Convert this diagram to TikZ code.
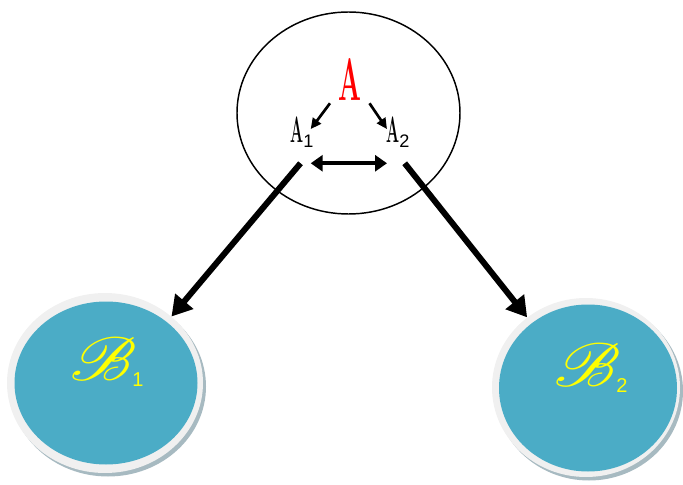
\documentclass[tikz,border=0pt]{standalone}
\usepackage{fontspec}
\usepackage{mathrsfs}
\usepackage{graphicx}
\usetikzlibrary{arrows.meta,shapes.geometric}
\newfontfamily\digitfont{Liberation Sans}
\definecolor{aqua}{HTML}{4BACC6}
\definecolor{ringgray}{HTML}{F0F0F0}
\definecolor{shadowgray}{HTML}{A7BAC1}
\definecolor{scriptyellow}{HTML}{FFFF00}
\newcommand{\scriptB}{\scalebox{2.1}[1.85]{\fontsize{24.88}{24.88}\selectfont$\mathscr{B}$}}
\begin{document}
    \begin{tikzpicture}
        [x=0.75pt, y=-0.75pt,
         bubble/.style={ellipse, draw=black, line width=1.1pt, inner sep=0pt},
         blob/.style={ellipse, draw=none, inner sep=0pt},
         letter/.style={inner sep=0pt, anchor=base west},
         thin arrow/.style={line width=2pt, -{Triangle[length=8pt, width=7.5pt]}},
         both arrow/.style={line width=3pt, {Triangle[length=9pt, width=12pt]}-{Triangle[length=9pt, width=12pt]}},
         fat arrow/.style={line width=4.5pt, -{Triangle[length=15pt, width=17pt]}}]
        \useasboundingbox (0,0) rectangle (683,485);
        % top set
        \node [bubble, minimum width=167.25pt, minimum height=151.5pt] (whole) at (348.5,113) {};
        \node [letter, text=red] (top) at (338,101) {\fontsize{45}{45}\selectfont\scalebox{0.45}[1]{\bfseries A}};
        \node [letter] (a1) at (290,143) {\fontsize{27.5}{27.5}\selectfont\scalebox{0.42}[1]{\bfseries A}\raisebox{-3pt}{\digitfont\fontsize{13.6}{13.6}\selectfont 1}};
        \node [letter] (a2) at (386,143) {\fontsize{27.5}{27.5}\selectfont\scalebox{0.42}[1]{\bfseries A}\raisebox{-3pt}{\digitfont\fontsize{13.6}{13.6}\selectfont 2}};
        % left blob
        \node [blob, fill=shadowgray, minimum width=147pt, minimum height=135pt] (b1shadow) at (108,386.5) {};
        \node [blob, fill=ringgray, minimum width=147pt, minimum height=135pt] (b1ring) at (105,383) {};
        \node [blob, fill=aqua, minimum width=137.25pt, minimum height=122.25pt] (b1) at (106,383) {};
        \node [inner sep=0pt, text=scriptyellow] (b1label) at (107,362) {\scriptB\hspace{-3pt}\raisebox{-5pt}{\digitfont\fontsize{15}{15}\selectfont 1}};
        % right blob
        \node [blob, fill=shadowgray, minimum width=141pt, minimum height=134.25pt] (b2shadow) at (589,391) {};
        \node [blob, fill=ringgray, minimum width=141pt, minimum height=134.25pt] (b2ring) at (586,387.5) {};
        \node [blob, fill=aqua, minimum width=133.5pt, minimum height=125.25pt] (b2) at (588,388) {};
        \node [inner sep=0pt, text=scriptyellow] (b2label) at (591,368) {\scriptB\hspace{-3pt}\raisebox{-5pt}{\digitfont\fontsize{15}{15}\selectfont 2}};
        % arrows
        \draw [thin arrow] ([xshift=-6pt, yshift=-1.5pt]top.south west) -- ([xshift=-2.25pt, yshift=-9pt]a1.north east);
        \draw [thin arrow] ([xshift=6pt, yshift=-1.5pt]top.south east) -- ([xshift=0.75pt, yshift=-9pt]a2.north west);
        \draw [both arrow] ([xshift=-2.25pt, yshift=-12pt]a1.south east) -- ([xshift=0.75pt, yshift=-12pt]a2.south west);
        \draw [fat arrow] ([xshift=-1pt, yshift=-12pt]a1.south) -- (b1ring.45);
        \draw [fat arrow] ([xshift=-3.75pt, yshift=-12pt]a2.south east) -- (b2ring.130);
    \end{tikzpicture}
\end{document}
